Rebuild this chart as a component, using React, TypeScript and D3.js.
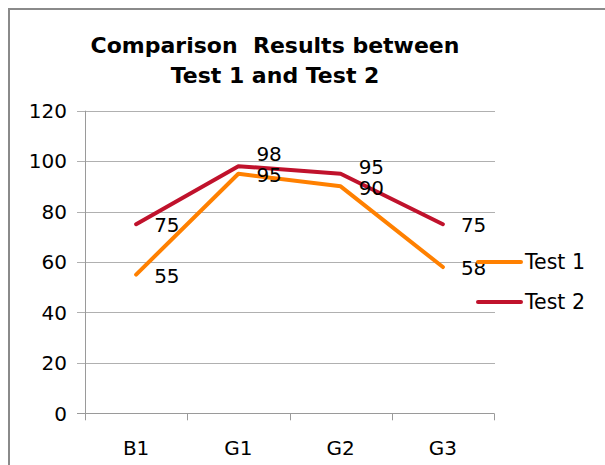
import React, { useEffect, useRef } from "react";
import * as d3 from "d3";

// chart data
const categories = ["B1", "G1", "G2", "G3"];
const test1 = [55, 95, 90, 58];
const test2 = [75, 98, 95, 75];
const yTicks = [0, 20, 40, 60, 80, 100, 120];
const seriesNames = ["Test 1", "Test 2"];
const titleLines = ["Comparison  Results between", "Test 1 and Test 2"];

const W = 605;
const H = 465;
const FONT = "'DejaVu Sans', Verdana, sans-serif";
const COLORS = ["#FF8000", "#C0122C"];

export default function App() {
  const svgRef = useRef<SVGSVGElement>(null);

  useEffect(() => {
    const svg = d3.select(svgRef.current);
    svg.selectChildren().remove();

    const margin = { top: 110.7, right: 111, bottom: 51.7, left: 85 };
    const x = d3
      .scaleBand()
      .domain(categories)
      .range([margin.left, W - margin.right]);
    const y = d3
      .scaleLinear()
      .domain([0, 120])
      .range([H - margin.bottom, margin.top]);

    // outer frame
    svg
      .append("path")
      .attr("d", `M9,${H} V9 H${W}`)
      .attr("fill", "none")
      .attr("stroke", "#8a8a8a")
      .attr("stroke-width", 2);

    // title (keeps the double space)
    svg
      .append("g")
      .selectAll("text")
      .data(titleLines)
      .enter()
      .append("text")
      .attr("x", 275)
      .attr("y", (d, i) => 53 + i * 30)
      .attr("text-anchor", "middle")
      .attr("font-family", FONT)
      .attr("font-weight", "bold")
      .attr("font-size", 22)
      .style("white-space", "pre")
      .text((d) => d);

    // gridlines
    const x0 = margin.left;
    const x1 = W - margin.right;
    svg
      .append("g")
      .selectAll("line")
      .data(yTicks)
      .enter()
      .append("line")
      .attr("x1", x0 - 8)
      .attr("x2", (d) => (d === 0 ? x1 : x1 + 1))
      .attr("y1", (d) => Math.round(y(d)) + 0.5)
      .attr("y2", (d) => Math.round(y(d)) + 0.5)
      .attr("stroke", (d) => (d === 0 ? "#9a9a9a" : "#b0b0b0"))
      .attr("stroke-width", 1);

    // y axis line
    svg
      .append("line")
      .attr("x1", x0 + 0.5)
      .attr("x2", x0 + 0.5)
      .attr("y1", y(120))
      .attr("y2", y(0) + 7)
      .attr("stroke", "#9a9a9a");

    // x ticks
    const xTickPos = categories.map((c) => x(c)! + x.bandwidth());
    svg
      .append("g")
      .selectAll("line")
      .data(xTickPos)
      .enter()
      .append("line")
      .attr("x1", (d) => Math.round(d) + 0.5)
      .attr("x2", (d) => Math.round(d) + 0.5)
      .attr("y1", y(0))
      .attr("y2", y(0) + 7)
      .attr("stroke", "#9a9a9a");

    // y tick labels
    svg
      .append("g")
      .selectAll("text")
      .data(yTicks)
      .enter()
      .append("text")
      .attr("x", x0 - 18)
      .attr("y", (d) => y(d))
      .attr("dy", "0.36em")
      .attr("text-anchor", "end")
      .attr("font-family", FONT)
      .attr("font-size", 20)
      .text((d) => d);

    // category labels
    svg
      .append("g")
      .selectAll("text")
      .data(categories)
      .enter()
      .append("text")
      .attr("x", (d) => x(d)! + x.bandwidth() / 2)
      .attr("y", y(0) + 42)
      .attr("text-anchor", "middle")
      .attr("font-family", FONT)
      .attr("font-size", 20)
      .text((d) => d);

    const cx = (i: number) => x(categories[i])! + x.bandwidth() / 2;
    const line = d3
      .line<number>()
      .x((d, i) => cx(i))
      .y((d) => y(d));

    [test1, test2].forEach((s, k) => {
      svg
        .append("path")
        .datum(s)
        .attr("fill", "none")
        .attr("stroke", COLORS[k])
        .attr("stroke-width", 4)
        .attr("stroke-linejoin", "round")
        .attr("stroke-linecap", "round")
        .attr("d", line);
    });

    // data labels, right of point; Test 2 pushed up if it would overlap Test 1
    const labels: { v: number; x: number; y: number }[] = [];
    test1.forEach((v, i) => labels.push({ v, x: cx(i) + 18, y: y(v) + 1 }));
    test2.forEach((v, i) => {
      const ly = Math.min(y(v) + 1, y(test1[i]) + 1 - 21);
      labels.push({ v, x: cx(i) + 18, y: ly });
    });
    svg
      .append("g")
      .selectAll("text")
      .data(labels)
      .enter()
      .append("text")
      .attr("x", (d) => d.x)
      .attr("y", (d) => d.y)
      .attr("dy", "0.36em")
      .attr("font-family", FONT)
      .attr("font-size", 20)
      .text((d) => d.v);

    // legend
    const lg = svg.append("g");
    seriesNames.forEach((name, k) => {
      const ly = 262 + k * 40;
      lg.append("line")
        .attr("x1", 478)
        .attr("x2", 521)
        .attr("y1", ly)
        .attr("y2", ly)
        .attr("stroke", COLORS[k])
        .attr("stroke-width", 4)
        .attr("stroke-linecap", "round");
      lg.append("text")
        .attr("x", 525)
        .attr("y", ly)
        .attr("dy", "0.36em")
        .attr("font-family", FONT)
        .attr("font-size", 20.5)
        .text(name);
    });
  }, []);

  return (
    <svg
      ref={svgRef}
      width={W}
      height={H}
      style={{ position: "absolute", left: 0, top: 0, background: "#fff" }}
    />
  );
}
